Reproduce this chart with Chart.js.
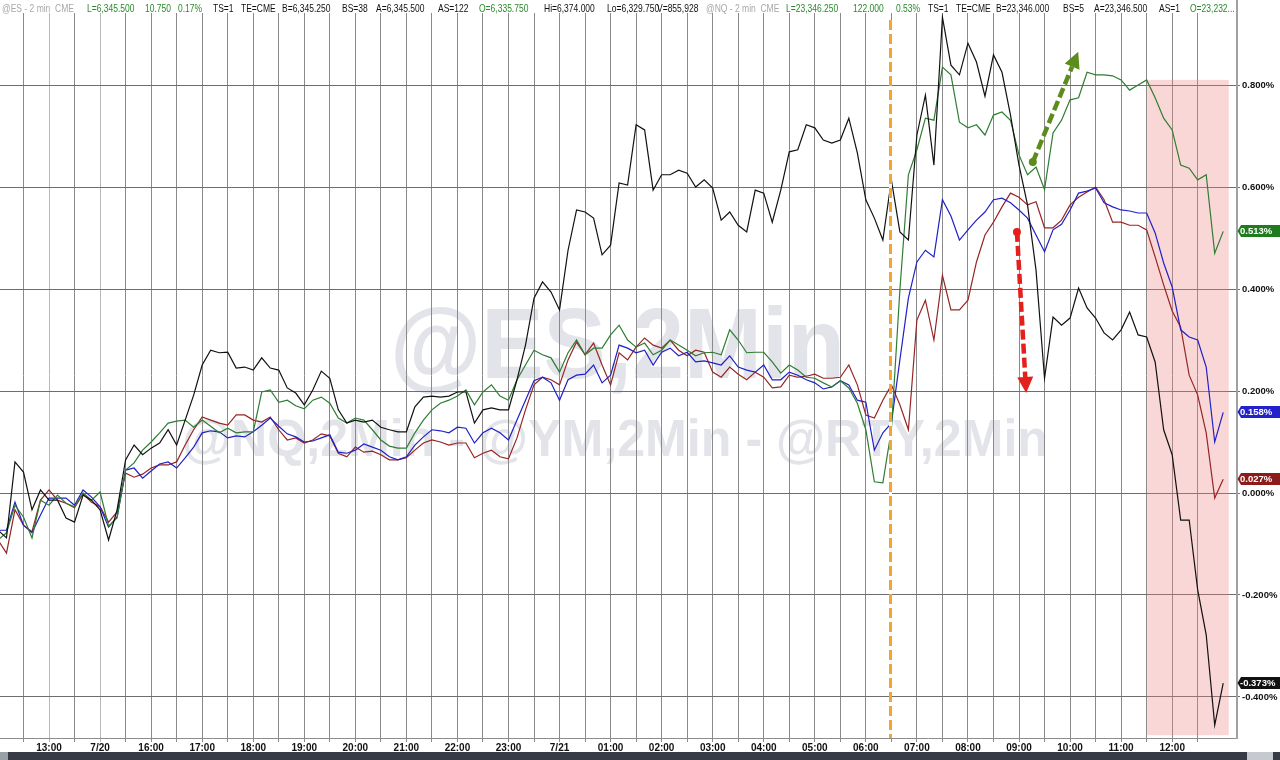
<!DOCTYPE html>
<html>
<head>
<meta charset="utf-8">
<title>ES / NQ / YM / RTY 2 min</title>
<script src="https://cdn.jsdelivr.net/npm/chart.js@4.4.1/dist/chart.umd.min.js"></script>
<style>
  html, body { margin: 0; padding: 0; background: #fff; }
  canvas { display: block; }
</style>
</head>
<body>
<canvas id="chart" width="1280" height="760"></canvas>
<script>
// one sample every 10 minutes, x in hours of trading time from the first bar
const STEP = 1 / 6;

const xLabels = ["13:00", "7/20", "16:00", "17:00", "18:00", "19:00", "20:00", "21:00", "22:00", "23:00",
    "7/21", "01:00", "02:00", "03:00", "04:00", "05:00", "06:00", "07:00", "08:00", "09:00", "10:00", "11:00", "12:00"];
const yTicks = [-0.4, -0.2, 0, 0.2, 0.4, 0.6, 0.8];

// % change, black line
const rtyPct = [
    -0.073, -0.088, 0.061, 0.041, -0.033, 0.006, -0.014, -0.014, -0.049, -0.057,
    -0.004, -0.014, -0.033, -0.092, -0.033, 0.065, 0.094, 0.075, 0.088, 0.098,
    0.124, 0.094, 0.143, 0.192, 0.251, 0.280, 0.275, 0.276, 0.245, 0.247,
    0.241, 0.265, 0.245, 0.241, 0.206, 0.196, 0.173, 0.202, 0.239, 0.225,
    0.163, 0.137, 0.143, 0.139, 0.143, 0.129, 0.124, 0.120, 0.120, 0.169,
    0.188, 0.190, 0.188, 0.190, 0.198, 0.198, 0.137, 0.163, 0.167, 0.163,
    0.163, 0.222, 0.290, 0.382, 0.414, 0.394, 0.359, 0.476, 0.555, 0.551,
    0.539, 0.467, 0.486, 0.608, 0.604, 0.722, 0.712, 0.594, 0.624, 0.624,
    0.633, 0.627, 0.600, 0.614, 0.598, 0.535, 0.551, 0.525, 0.512, 0.594,
    0.588, 0.531, 0.594, 0.669, 0.673, 0.722, 0.716, 0.692, 0.686, 0.692,
    0.735, 0.667, 0.575, 0.539, 0.496, 0.614, 0.512, 0.496, 0.702, 0.780,
    0.643, 0.933, 0.839, 0.820, 0.882, 0.845, 0.778, 0.859, 0.825, 0.741,
    0.643, 0.565, 0.437, 0.225, 0.345, 0.329, 0.343, 0.402, 0.363, 0.343,
    0.314, 0.300, 0.320, 0.355, 0.310, 0.306, 0.257, 0.124, 0.075, -0.053,
    -0.053, -0.190, -0.278, -0.455, -0.373
];

// % change, green line
const nqPct = [
    -0.092, -0.078, -0.024, -0.047, -0.088, -0.014, -0.024, -0.004, -0.020, -0.027,
    0.000, -0.014, 0.002, -0.065, -0.049, 0.045, 0.059, 0.084, 0.100, 0.118,
    0.137, 0.141, 0.143, 0.129, 0.143, 0.131, 0.118, 0.127, 0.118, 0.120,
    0.120, 0.198, 0.202, 0.178, 0.182, 0.171, 0.165, 0.182, 0.188, 0.176,
    0.147, 0.137, 0.147, 0.143, 0.124, 0.104, 0.092, 0.088, 0.088, 0.118,
    0.143, 0.163, 0.176, 0.182, 0.190, 0.202, 0.173, 0.198, 0.212, 0.190,
    0.182, 0.222, 0.251, 0.280, 0.271, 0.265, 0.237, 0.275, 0.300, 0.271,
    0.284, 0.284, 0.310, 0.329, 0.300, 0.286, 0.294, 0.271, 0.280, 0.300,
    0.290, 0.280, 0.269, 0.275, 0.276, 0.271, 0.320, 0.300, 0.275, 0.276,
    0.276, 0.257, 0.235, 0.251, 0.241, 0.227, 0.225, 0.216, 0.208, 0.220,
    0.206, 0.176, 0.124, 0.022, 0.020, 0.124, 0.398, 0.624, 0.673, 0.735,
    0.731, 0.835, 0.820, 0.727, 0.716, 0.722, 0.702, 0.741, 0.747, 0.731,
    0.663, 0.624, 0.639, 0.595, 0.706, 0.731, 0.771, 0.775, 0.825, 0.820,
    0.820, 0.818, 0.810, 0.790, 0.800, 0.810, 0.775, 0.735, 0.712, 0.643,
    0.637, 0.614, 0.624, 0.470, 0.513
];

// % change, blue line
const esPct = [
    -0.073, -0.073, -0.018, -0.063, -0.078, -0.043, -0.010, -0.010, -0.010, -0.024,
    0.006, -0.008, -0.027, -0.067, -0.047, 0.045, 0.049, 0.029, 0.043, 0.057,
    0.061, 0.049, 0.069, 0.090, 0.118, 0.122, 0.120, 0.108, 0.112, 0.110,
    0.120, 0.133, 0.147, 0.131, 0.116, 0.110, 0.100, 0.102, 0.108, 0.114,
    0.080, 0.078, 0.084, 0.096, 0.090, 0.084, 0.071, 0.065, 0.071, 0.094,
    0.110, 0.124, 0.122, 0.118, 0.129, 0.127, 0.098, 0.118, 0.127, 0.118,
    0.104, 0.143, 0.182, 0.220, 0.227, 0.216, 0.182, 0.222, 0.231, 0.233,
    0.251, 0.216, 0.231, 0.290, 0.284, 0.275, 0.280, 0.251, 0.276, 0.284,
    0.269, 0.276, 0.257, 0.259, 0.255, 0.251, 0.269, 0.247, 0.241, 0.237,
    0.251, 0.222, 0.222, 0.237, 0.231, 0.222, 0.216, 0.204, 0.208, 0.220,
    0.212, 0.182, 0.178, 0.084, 0.118, 0.137, 0.261, 0.382, 0.453, 0.476,
    0.463, 0.575, 0.543, 0.496, 0.516, 0.535, 0.551, 0.575, 0.578, 0.569,
    0.555, 0.539, 0.506, 0.473, 0.516, 0.527, 0.555, 0.588, 0.592, 0.598,
    0.569, 0.561, 0.555, 0.553, 0.549, 0.549, 0.510, 0.451, 0.404, 0.320,
    0.306, 0.300, 0.247, 0.100, 0.158
];

// % change, dark red line
const ymPct = [
    -0.092, -0.118, -0.033, -0.063, -0.076, -0.014, 0.006, -0.014, -0.020, -0.029,
    -0.002, -0.018, -0.027, -0.057, -0.037, 0.039, 0.031, 0.037, 0.049, 0.055,
    0.055, 0.061, 0.094, 0.124, 0.149, 0.143, 0.137, 0.133, 0.153, 0.153,
    0.143, 0.139, 0.149, 0.124, 0.104, 0.108, 0.098, 0.104, 0.116, 0.112,
    0.078, 0.071, 0.090, 0.080, 0.082, 0.075, 0.065, 0.065, 0.069, 0.084,
    0.098, 0.104, 0.100, 0.094, 0.098, 0.098, 0.069, 0.078, 0.084, 0.071,
    0.067, 0.108, 0.163, 0.212, 0.227, 0.222, 0.212, 0.261, 0.296, 0.271,
    0.294, 0.251, 0.212, 0.275, 0.261, 0.286, 0.304, 0.290, 0.284, 0.300,
    0.280, 0.269, 0.280, 0.276, 0.237, 0.227, 0.247, 0.233, 0.222, 0.237,
    0.227, 0.206, 0.208, 0.231, 0.227, 0.229, 0.233, 0.225, 0.225, 0.227,
    0.251, 0.212, 0.153, 0.147, 0.182, 0.212, 0.173, 0.124, 0.339, 0.378,
    0.300, 0.427, 0.359, 0.359, 0.378, 0.453, 0.506, 0.531, 0.561, 0.588,
    0.580, 0.565, 0.571, 0.520, 0.520, 0.535, 0.565, 0.580, 0.590, 0.600,
    0.575, 0.531, 0.531, 0.525, 0.525, 0.516, 0.463, 0.408, 0.357, 0.325,
    0.231, 0.192, 0.118, -0.010, 0.027
];

const headerParts = [
    [2, "@ES - 2 min  CME", "#a8a8a8"], [87, "L=6,345.500", "#2a8a2a"], [145, "10.750", "#2a8a2a"],
    [178, "0.17%", "#2a8a2a"], [213, "TS=1", "#111"], [241, "TE=CME", "#111"], [282, "B=6,345.250", "#111"],
    [342, "BS=38", "#111"], [376, "A=6,345.500", "#111"], [438, "AS=122", "#111"],
    [479, "O=6,335.750", "#2a8a2a"], [544, "Hi=6,374.000", "#111"], [607, "Lo=6,329.750", "#111"],
    [657, "V=855,928", "#111"], [706, "@NQ - 2 min  CME", "#a8a8a8"], [786, "L=23,346.250", "#2a8a2a"],
    [853, "122.000", "#2a8a2a"], [896, "0.53%", "#2a8a2a"], [928, "TS=1", "#111"], [956, "TE=CME", "#111"],
    [996, "B=23,346.000", "#111"], [1063, "BS=5", "#111"], [1094, "A=23,346.500", "#111"],
    [1159, "AS=1", "#111"], [1190, "O=23,232...", "#2a8a2a"]
];

const X_MIN = 0.04, X_MAX = 24.27;
const Y_MIN = -0.4804, Y_MAX = 0.9412;
const markerHour = 17.47;                 // orange dashed line
const shade = { from: 22.51, to: 24.11, top: 0.81, bottom: -0.475 };
const greenArrow = { x0: 20.27, y0: 0.649, x1: 21.16, y1: 0.865 };
const redArrow = { x0: 19.96, y0: 0.512, x1: 20.14, y1: 0.196 };

const FONT = '"Liberation Sans", Arial, Helvetica, sans-serif';

const gridHours = [];
for (let h = 0.5; h <= 23.5; h += 0.5) gridHours.push(h);

function toPoints(values) {
    return values.map((v, i) => ({ x: i * STEP, y: v }));
}

function drawFitted(ctx, text, x, baseline, width, font) {
    ctx.font = font;
    const w = ctx.measureText(text).width;
    ctx.save();
    ctx.translate(x, baseline);
    ctx.scale(width / w, 1);
    ctx.fillText(text, 0, 0);
    ctx.restore();
}

function drawArrow(ctx, x0, y0, x1, y1, color) {
    const ang = Math.atan2(y1 - y0, x1 - x0);
    const head = 16, half = 8;
    const bx = x1 - head * Math.cos(ang), by = y1 - head * Math.sin(ang);
    ctx.save();
    ctx.strokeStyle = color;
    ctx.fillStyle = color;
    ctx.lineWidth = 4.5;
    ctx.setLineDash([10, 4]);
    ctx.beginPath();
    ctx.moveTo(x0, y0);
    ctx.lineTo(bx, by);
    ctx.stroke();
    ctx.setLineDash([]);
    ctx.beginPath();
    ctx.arc(x0, y0, 4, 0, Math.PI * 2);
    ctx.fill();
    ctx.beginPath();
    ctx.moveTo(x1, y1);
    ctx.lineTo(bx + half * Math.sin(ang), by - half * Math.cos(ang));
    ctx.lineTo(bx - half * Math.sin(ang), by + half * Math.cos(ang));
    ctx.closePath();
    ctx.fill();
    ctx.restore();
}

const decorations = {
    id: "decorations",
    beforeDraw(chart) {
        const ctx = chart.ctx;
        ctx.save();
        ctx.fillStyle = "#fff";
        ctx.fillRect(0, 0, chart.width, chart.height);
        // watermark
        ctx.fillStyle = "#e3e4ea";
        drawFitted(ctx, "@ES,2Min", 390, 378, 455, "bold 100px " + FONT);
        drawFitted(ctx, "@NQ,2Min - @YM,2Min - @RTY,2Min", 182, 456, 866, "bold 52px " + FONT);
        ctx.restore();
    },
    beforeDatasetsDraw(chart) {
        const { ctx, scales: { x, y } } = chart;
        ctx.save();
        ctx.fillStyle = "rgba(240, 130, 130, 0.32)";
        const left = x.getPixelForValue(shade.from), right = x.getPixelForValue(shade.to);
        const top = y.getPixelForValue(shade.top), bottom = y.getPixelForValue(shade.bottom);
        ctx.fillRect(left, top, right - left, bottom - top);
        ctx.restore();
    },
    afterDatasetsDraw(chart) {
        const { ctx, chartArea: a, scales: { x, y } } = chart;
        // orange marker line
        const mx = Math.round(x.getPixelForValue(markerHour)) + 0.5;
        ctx.save();
        ctx.lineWidth = 3;
        ctx.strokeStyle = "#fff";
        ctx.beginPath();
        ctx.moveTo(mx, a.top + 7);
        ctx.lineTo(mx, a.bottom);
        ctx.stroke();
        ctx.strokeStyle = "#f3a531";
        ctx.setLineDash([10, 4]);
        ctx.beginPath();
        ctx.moveTo(mx, a.top + 7);
        ctx.lineTo(mx, a.bottom);
        ctx.stroke();
        ctx.restore();

        drawArrow(ctx, x.getPixelForValue(greenArrow.x0), y.getPixelForValue(greenArrow.y0),
            x.getPixelForValue(greenArrow.x1), y.getPixelForValue(greenArrow.y1), "#5b8c1c");
        drawArrow(ctx, x.getPixelForValue(redArrow.x0), y.getPixelForValue(redArrow.y0),
            x.getPixelForValue(redArrow.x1), y.getPixelForValue(redArrow.y1), "#e3201b");
    },
    afterDraw(chart) {
        const { ctx, chartArea: a, scales: { y } } = chart;
        ctx.save();

        // header line, narrow like the terminal font
        ctx.font = "10.5px " + FONT;
        ctx.textBaseline = "alphabetic";
        headerParts.forEach(([px, text, color]) => {
            ctx.save();
            ctx.translate(px, 12);
            ctx.scale(0.81, 1);
            ctx.fillStyle = color;
            ctx.fillText(text, 0, 0);
            ctx.restore();
        });
        ctx.strokeStyle = "#a0a0a0";
        ctx.lineWidth = 2;
        ctx.beginPath();
        ctx.moveTo(a.right, 0);
        ctx.lineTo(a.right, a.top);
        ctx.stroke();

        // last value tags
        const tags = [
            [nqPct[nqPct.length - 1], "#1e7b1e"],
            [esPct[esPct.length - 1], "#2222c8"],
            [ymPct[ymPct.length - 1], "#8c1c1c"],
            [rtyPct[rtyPct.length - 1], "#111111"]
        ];
        ctx.font = "bold 9.5px " + FONT;
        ctx.textBaseline = "middle";
        tags.forEach(([v, color]) => {
            const ty = Math.round(y.getPixelForValue(v));
            ctx.fillStyle = color;
            ctx.beginPath();
            ctx.moveTo(a.right + 0.5, ty);
            ctx.lineTo(a.right + 4, ty - 6);
            ctx.lineTo(chart.width, ty - 6);
            ctx.lineTo(chart.width, ty + 6);
            ctx.lineTo(a.right + 4, ty + 6);
            ctx.closePath();
            ctx.fill();
            ctx.fillStyle = "#fff";
            ctx.fillText(v.toFixed(3) + "%", a.right + 3, ty + 0.5);
        });

        // scroll bar strip at the bottom
        ctx.fillStyle = "#363b46";
        ctx.fillRect(0, 752, chart.width, 8);
        ctx.fillStyle = "#9aa0a8";
        ctx.fillRect(0, 752, 8, 8);
        ctx.fillStyle = "#c6cad0";
        ctx.fillRect(1247, 752, 26, 8);
        ctx.restore();
    }
};

const lineStyle = { borderWidth: 1.2, pointRadius: 0, tension: 0, fill: false };

new Chart(document.getElementById("chart"), {
    type: "line",
    data: {
        datasets: [
            { label: "@RTY", data: toPoints(rtyPct), borderColor: "#111111", ...lineStyle },
            { label: "@NQ", data: toPoints(nqPct), borderColor: "#2e7d32", ...lineStyle },
            { label: "@ES", data: toPoints(esPct), borderColor: "#2020c8", ...lineStyle },
            { label: "@YM", data: toPoints(ymPct), borderColor: "#962525", ...lineStyle }
        ]
    },
    options: {
        responsive: false,
        animation: false,
        events: [],
        layout: { padding: { top: 13, right: 0, bottom: 8, left: 0 } },
        plugins: { legend: { display: false }, tooltip: { enabled: false } },
        scales: {
            x: {
                type: "linear",
                min: X_MIN,
                max: X_MAX,
                afterBuildTicks: s => { s.ticks = gridHours.map(v => ({ value: v })); },
                afterFit: s => { s.height = 14; },
                ticks: {
                    autoSkip: false,
                    maxRotation: 0,
                    padding: 0,
                    color: "#111",
                    font: { family: FONT, size: 10, weight: "bold" },
                    callback: v => Number.isInteger(v) ? xLabels[v - 1] : ""
                },
                grid: {
                    color: c => (c.tick && (c.tick.value === 1 || c.tick.value === 2)) ? "#b8b8b8" : "#8a8a8a",
                    tickLength: 4
                },
                border: { color: "#8c8c8c" }
            },
            y: {
                type: "linear",
                position: "right",
                min: Y_MIN,
                max: Y_MAX,
                afterBuildTicks: s => { s.ticks = yTicks.map(v => ({ value: v })); },
                afterFit: s => { s.width = 43; },
                ticks: {
                    padding: 2,
                    color: "#111",
                    font: { family: FONT, size: 9.5, weight: "bold" },
                    callback: v => v.toFixed(3) + "%"
                },
                grid: { color: "#6e6e6e", tickLength: 3 },
                border: { color: "#a0a0a0", width: 2 }
            }
        }
    },
    plugins: [decorations]
});
</script>
</body>
</html>
